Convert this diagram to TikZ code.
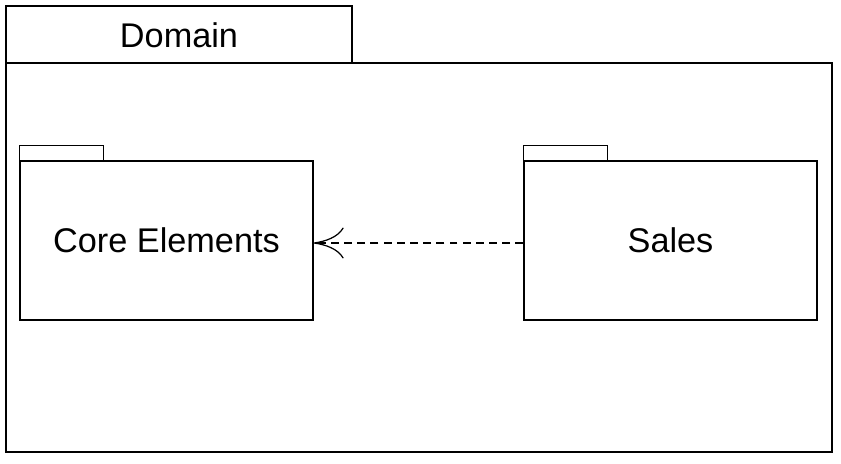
\documentclass[tikz,border=0pt]{standalone}
\usepackage{fontspec}
\setmainfont{Liberation Sans}
\usetikzlibrary{arrows.meta}

\begin{document}
\begin{tikzpicture}[x=0.02cm,y=-0.02cm,
    every node/.style={font=\fontsize{19.5}{23}\selectfont},
    pkgbody/.style={draw,line width=0.8pt,minimum width=5.86cm,minimum height=3.18cm,inner sep=0pt},
    pkgline/.style={draw,line width=0.8pt}]
  \useasboundingbox (0,0) rectangle (841,463);
  % outer package
  \draw[pkgline] (6,6) rectangle (352,63);
  \draw[pkgline] (6,63) rectangle (832,452);
  \node (domain) at (179,35) {Domain};
  % inner packages
  \node[pkgbody] (core) at (166.5,240.5) {Core Elements};
  \node[pkgbody] (sales) at (670.5,240.5) {Sales};
  \foreach \p in {core,sales} {
    \draw[pkgline] (\p.north west) -- ++(0,-15) -- ++(84,0) -- ++(0,15);
  }
  % dependency
  \draw[line width=0.6pt,dash pattern=on 4.5pt off 3pt,
        -{Computer Modern Rightarrow[length=0.6cm,width=0.62cm,line width=0.7pt]}]
    ([yshift=-0.05cm]sales.west) -- ([yshift=-0.05cm]core.east);
\end{tikzpicture}
\end{document}
